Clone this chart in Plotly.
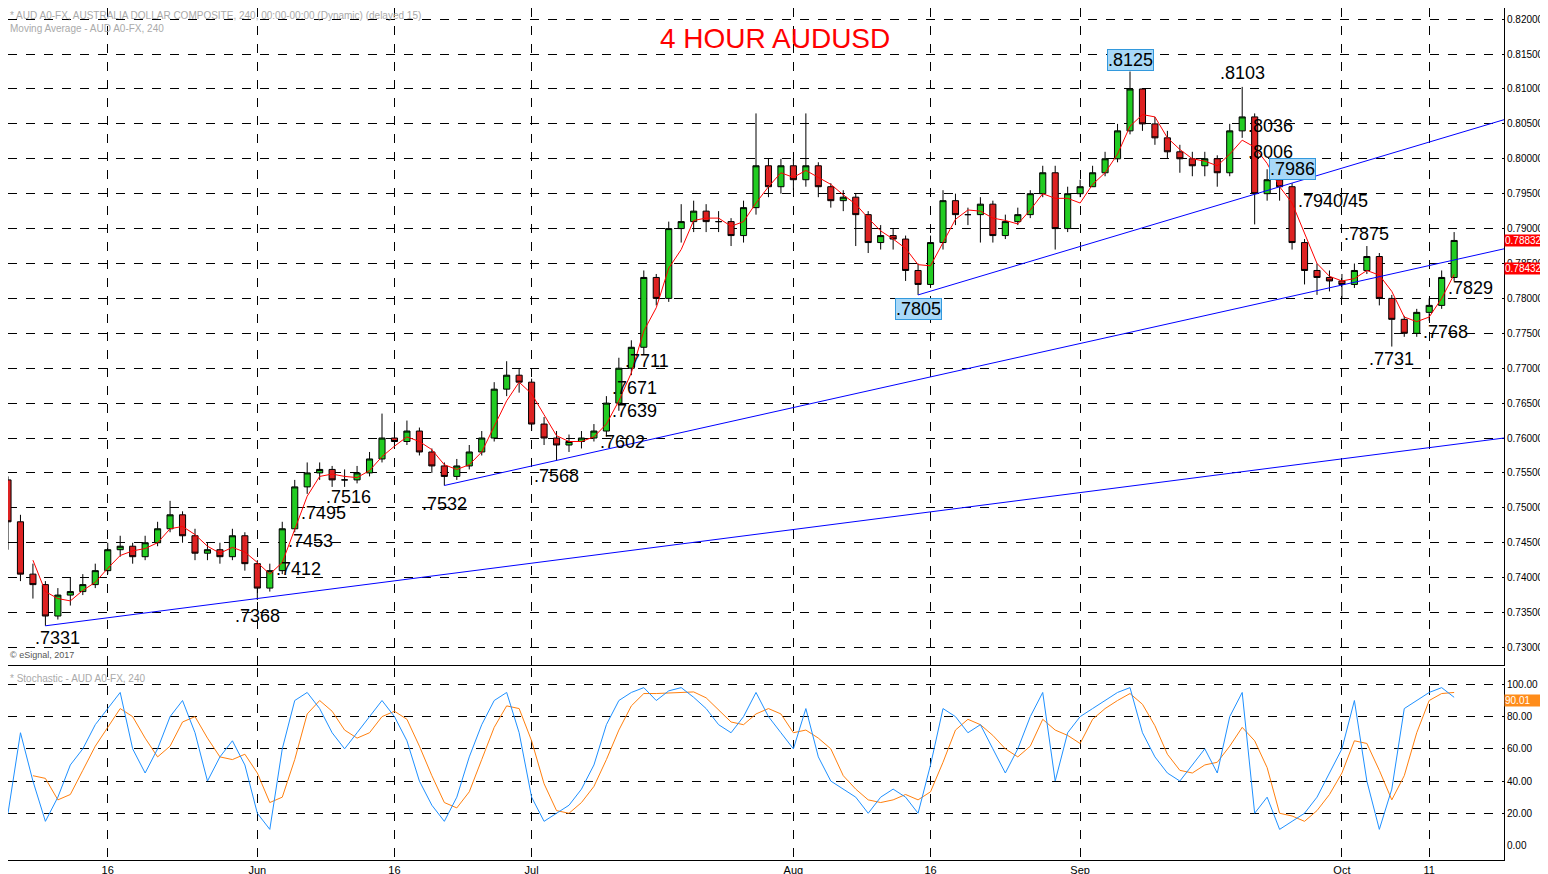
import pandas as pd
import plotly.graph_objects as go
from plotly.subplots import make_subplots

# daily bars (trading days only)
days = ["2017-05-04","2017-05-05","2017-05-08","2017-05-09","2017-05-10","2017-05-11","2017-05-12",
        "2017-05-15","2017-05-16","2017-05-17","2017-05-18","2017-05-19","2017-05-22","2017-05-23",
        "2017-05-24","2017-05-25","2017-05-26","2017-05-29","2017-05-30","2017-05-31","2017-06-01",
        "2017-06-02","2017-06-05","2017-06-06","2017-06-07","2017-06-08","2017-06-09","2017-06-12",
        "2017-06-13","2017-06-14","2017-06-15","2017-06-16","2017-06-19","2017-06-20","2017-06-21",
        "2017-06-22","2017-06-23","2017-06-26","2017-06-27","2017-06-28","2017-06-29","2017-06-30",
        "2017-07-03","2017-07-04","2017-07-05","2017-07-06","2017-07-07","2017-07-10","2017-07-11",
        "2017-07-12","2017-07-13","2017-07-14","2017-07-17","2017-07-18","2017-07-19","2017-07-20",
        "2017-07-21","2017-07-24","2017-07-25","2017-07-26","2017-07-27","2017-07-28","2017-07-31",
        "2017-08-01","2017-08-02","2017-08-03","2017-08-04","2017-08-07","2017-08-08","2017-08-09",
        "2017-08-10","2017-08-11","2017-08-14","2017-08-15","2017-08-16","2017-08-17","2017-08-18",
        "2017-08-21","2017-08-22","2017-08-23","2017-08-24","2017-08-25","2017-08-28","2017-08-29",
        "2017-08-30","2017-08-31","2017-09-01","2017-09-04","2017-09-05","2017-09-06","2017-09-07",
        "2017-09-08","2017-09-11","2017-09-12","2017-09-13","2017-09-14","2017-09-15","2017-09-18",
        "2017-09-19","2017-09-20","2017-09-21","2017-09-22","2017-09-25","2017-09-26","2017-09-27",
        "2017-09-28","2017-09-29","2017-10-02","2017-10-03","2017-10-04","2017-10-05","2017-10-06",
        "2017-10-09","2017-10-10","2017-10-11","2017-10-12","2017-10-13"]
opens = [0.7540,0.7480,0.7405,0.7390,0.7345,0.7375,0.7380,0.7390,0.7410,0.7440,0.7445,0.7430,0.7450,0.7470,
         0.7490,0.7460,0.7435,0.7440,0.7430,0.7460,0.7420,0.7385,0.7410,0.7470,0.7530,0.7550,0.7555,0.7540,
         0.7540,0.7550,0.7570,0.7600,0.7595,0.7610,0.7580,0.7560,0.7545,0.7560,0.7580,0.7600,0.7670,0.7690,
         0.7680,0.7620,0.7600,0.7590,0.7595,0.7600,0.7610,0.7650,0.7700,0.7730,0.7830,0.7800,0.7900,0.7910,
         0.7925,0.7910,0.7910,0.7890,0.7930,0.7990,0.7960,0.7990,0.7970,0.7990,0.7960,0.7940,0.7945,0.7920,
         0.7880,0.7890,0.7885,0.7840,0.7820,0.7880,0.7940,0.7920,0.7920,0.7935,0.7890,0.7910,0.7920,0.7950,
         0.7980,0.7900,0.7950,0.7960,0.7980,0.8000,0.8040,0.8100,0.8050,0.8030,0.8010,0.8000,0.7990,0.8000,
         0.7980,0.8040,0.8060,0.7950,0.7970,0.7960,0.7880,0.7840,0.7830,0.7825,0.7820,0.7840,0.7860,0.7800,
         0.7770,0.7750,0.7780,0.7790,0.7830]
closes = [0.7480,0.7405,0.7390,0.7345,0.7375,0.7380,0.7390,0.7410,0.7440,0.7445,0.7430,0.7450,0.7470,0.7490,
          0.7460,0.7435,0.7440,0.7430,0.7460,0.7420,0.7385,0.7410,0.7470,0.7530,0.7550,0.7555,0.7540,0.7540,
          0.7550,0.7570,0.7600,0.7595,0.7610,0.7580,0.7560,0.7545,0.7560,0.7580,0.7600,0.7670,0.7690,0.7680,
          0.7620,0.7600,0.7590,0.7595,0.7600,0.7610,0.7650,0.7700,0.7730,0.7830,0.7800,0.7900,0.7910,0.7925,
          0.7910,0.7910,0.7890,0.7930,0.7990,0.7960,0.7990,0.7970,0.7990,0.7960,0.7940,0.7945,0.7920,0.7880,
          0.7890,0.7885,0.7840,0.7820,0.7880,0.7940,0.7920,0.7920,0.7935,0.7890,0.7910,0.7920,0.7950,0.7980,
          0.7900,0.7950,0.7960,0.7980,0.8000,0.8040,0.8100,0.8050,0.8030,0.8010,0.8000,0.7990,0.8000,0.7980,
          0.8040,0.8060,0.7950,0.7970,0.7960,0.7880,0.7840,0.7830,0.7825,0.7820,0.7840,0.7860,0.7800,0.7770,
          0.7750,0.7780,0.7790,0.7830,0.7883]
highs = [0.7545,0.7490,0.7420,0.7395,0.7385,0.7400,0.7405,0.7420,0.7450,0.7460,0.7450,0.7460,0.7480,0.7510,
         0.7495,0.7470,0.7450,0.7450,0.7470,0.7465,0.7425,0.7420,0.7480,0.7540,0.7565,0.7565,0.7560,0.7555,
         0.7560,0.7580,0.7635,0.7620,0.7625,0.7615,0.7585,0.7565,0.7570,0.7590,0.7610,0.7680,0.7710,0.7700,
         0.7685,0.7630,0.7610,0.7605,0.7610,0.7620,0.7660,0.7715,0.7740,0.7840,0.7835,0.7910,0.7935,0.7940,
         0.7935,0.7925,0.7915,0.7940,0.8065,0.8000,0.8000,0.8000,0.8065,0.7995,0.7965,0.7955,0.7950,0.7925,
         0.7905,0.7900,0.7890,0.7850,0.7890,0.7955,0.7950,0.7930,0.7945,0.7940,0.7920,0.7930,0.7955,0.7990,
         0.7990,0.7960,0.7970,0.7990,0.8010,0.8050,0.8125,0.8100,0.8060,0.8040,0.8020,0.8010,0.8010,0.8005,
         0.8050,0.8103,0.8065,0.7985,0.7975,0.7965,0.7885,0.7850,0.7840,0.7835,0.7850,0.7875,0.7865,0.7805,
         0.7775,0.7785,0.7800,0.7840,0.7895]
lows = [0.7440,0.7395,0.7370,0.7331,0.7340,0.7360,0.7375,0.7385,0.7405,0.7430,0.7420,0.7425,0.7445,0.7465,
        0.7450,0.7425,0.7425,0.7420,0.7425,0.7410,0.7368,0.7380,0.7405,0.7465,0.7520,0.7540,0.7530,0.7530,
        0.7535,0.7545,0.7565,0.7585,0.7590,0.7575,0.7550,0.7532,0.7540,0.7555,0.7575,0.7595,0.7660,0.7665,
        0.7610,0.7590,0.7568,0.7580,0.7585,0.7595,0.7602,0.7639,0.7690,0.7720,0.7790,0.7795,0.7880,0.7895,
        0.7895,0.7895,0.7875,0.7880,0.7920,0.7945,0.7950,0.7955,0.7960,0.7945,0.7930,0.7925,0.7875,0.7865,
        0.7870,0.7870,0.7825,0.7805,0.7815,0.7870,0.7905,0.7905,0.7880,0.7880,0.7885,0.7905,0.7915,0.7945,
        0.7870,0.7895,0.7945,0.7960,0.7975,0.7995,0.8035,0.8040,0.8020,0.8000,0.7980,0.7975,0.7975,0.7960,
        0.7975,0.8030,0.7906,0.7940,0.7940,0.7870,0.7820,0.7805,0.7810,0.7800,0.7815,0.7835,0.7790,0.7731,
        0.7745,0.7745,0.7768,0.7785,0.7825]
stoch_k = [20,70,40,15,30,50,60,75,85,95,60,45,60,80,90,70,40,55,65,50,20,10,60,90,95,85,70,60,70,80,
           90,80,65,40,25,15,30,55,75,90,95,70,30,15,20,25,35,50,75,90,95,98,90,96,98,92,85,75,70,80,
           95,80,70,60,85,55,40,35,30,20,30,35,30,20,50,85,80,70,75,60,45,60,80,95,40,70,80,85,90,95,
           98,70,55,45,40,50,60,45,80,95,20,30,10,15,20,30,45,60,90,40,10,35,85,90,95,98,92]
price_ticks = [round(0.73 + 0.005 * i, 3) for i in range(19)]
stoch_ticks = [0, 20, 40, 60, 80, 100]
x_ticks = ["2017-05-16","2017-06-01","2017-06-16","2017-07-03","2017-07-16","2017-08-01",
           "2017-08-16","2017-09-01","2017-09-17","2017-10-02","2017-10-11"]
x_labels = ["16","Jun","16","Jul","16","Aug","16","Sep","17","Oct","11"]
# (text, day, price, placed to the right of the bar)
labels = [(".7331","2017-05-10",0.7314,False),(".7368","2017-06-01",0.7345,False),
          (".7412","2017-06-02",0.7412,True),(".7453","2017-06-05",0.7453,True),
          (".7495","2017-06-06",0.7493,True),(".7516","2017-06-08",0.7516,True),
          (".7532","2017-06-22",0.7505,False),(".7568","2017-07-05",0.7545,False),
          (".7602","2017-07-10",0.7594,True),(".7639","2017-07-11",0.7638,True),
          (".7671","2017-07-11",0.7671,True),(".7711","2017-07-12",0.7711,True),
          (".7805","2017-08-15",0.7785,False),(".8125","2017-09-07",0.8141,False),
          (".8103","2017-09-20",0.8123,False),(".8036","2017-09-20",0.8047,True),
          (".8006","2017-09-20",0.8010,True),(".7986","2017-09-26",0.7985,False),
          (".7940/45","2017-09-26",0.7940,True),(".7875","2017-10-04",0.7892,False),
          (".7731","2017-10-06",0.7713,False),(".7768","2017-10-10",0.7752,True),
          (".7829","2017-10-12",0.7815,True)]
boxed = {".8125", ".7805", ".7986"}

n = min(len(days), len(opens), len(closes), len(highs), len(lows), len(stoch_k))
df = pd.DataFrame({"day": pd.to_datetime(days[:n]), "o": opens[:n], "h": highs[:n], "l": lows[:n],
                   "c": closes[:n], "k": stoch_k[:n]})
df["ma"] = df["c"].rolling(3).mean()
df["d"] = df["k"].rolling(3).mean()

fig = make_subplots(rows=2, cols=1, shared_xaxes=True)
fig.add_trace(go.Candlestick(x=df["day"], open=df["o"], high=df["h"], low=df["l"], close=df["c"],
                             increasing=dict(line=dict(color="black", width=1), fillcolor="#22cc22"),
                             decreasing=dict(line=dict(color="black", width=1), fillcolor="#dd2222"),
                             whiskerwidth=0, showlegend=False), row=1, col=1)
fig.add_trace(go.Scatter(x=df["day"], y=df["ma"], mode="lines", line=dict(color="red", width=1),
                         showlegend=False), row=1, col=1)
fig.add_trace(go.Scatter(x=df["day"], y=df["d"], mode="lines", line=dict(color="#ff7f0e", width=1),
                         showlegend=False), row=2, col=1)
fig.add_trace(go.Scatter(x=df["day"], y=df["k"], mode="lines", line=dict(color="#1e90ff", width=1),
                         showlegend=False), row=2, col=1)

# trendlines
for x0, y0, x1, y1 in [("2017-05-09", 0.7331, "2017-10-19", 0.7600),
                       ("2017-06-22", 0.7532, "2017-10-19", 0.7871),
                       ("2017-08-15", 0.7805, "2017-10-19", 0.8056)]:
    fig.add_shape(type="line", x0=x0, y0=y0, x1=x1, y1=y1, xref="x", yref="y",
                  line=dict(color="blue", width=1))

for text, d, p, right in labels:
    box = text in boxed
    fig.add_annotation(x=d, y=p, text=text, showarrow=False, xref="x", yref="y",
                       xanchor="left" if right else "center", xshift=6 if right else 0,
                       font=dict(size=18, color="black", family="Arial"),
                       bgcolor="#a8d8f8" if box else None, bordercolor="#3399dd" if box else None,
                       borderwidth=1 if box else 0, borderpad=0)

fig.add_annotation(x=0.513, y=0.985, xref="paper", yref="paper", text="4 HOUR AUDUSD", showarrow=False,
                   font=dict(size=28, color="red", family="Arial"))
fig.add_annotation(x=0.0, y=1.0, xref="paper", yref="paper", xanchor="left", yanchor="top", align="left",
                   text="* AUD A0-FX, AUSTRALIA DOLLAR COMPOSITE, 240, 00:00-00:00 (Dynamic) (delayed 15)<br>Moving Average - AUD A0-FX, 240",
                   showarrow=False, font=dict(size=10, color="#aaaaaa", family="Arial"))
fig.add_annotation(x=0.0, y=0.232, xref="paper", yref="paper", xanchor="left", yanchor="bottom",
                   text="© eSignal, 2017", showarrow=False, font=dict(size=9, color="#555555", family="Arial"))
fig.add_annotation(x=0.0, y=0.222, xref="paper", yref="paper", xanchor="left", yanchor="top",
                   text="* Stochastic - AUD A0-FX, 240", showarrow=False,
                   font=dict(size=10, color="#aaaaaa", family="Arial"))
for val, txt, ref, col in [(0.78832, "0.78832", "y", "red"), (0.78432, "0.78432", "y", "red"),
                           (90.01, "90.01", "y2", "#ff8c1a")]:
    fig.add_annotation(x=1.0, y=val, xref="paper", yref=ref, xanchor="left", text=txt, showarrow=False,
                       bgcolor=col, font=dict(size=10, color="white", family="Arial"), width=46, height=11,
                       align="left", borderpad=0)

grid = dict(showgrid=True, gridcolor="black", griddash="dash", gridwidth=1)
fig.update_xaxes(type="date", range=["2017-05-04", "2017-10-19"],
                 rangebreaks=[dict(bounds=["sat", "mon"])], rangeslider_visible=False,
                 tickvals=x_ticks, ticktext=x_labels, tickfont=dict(size=11, color="black", family="Arial"),
                 showline=True, linecolor="black", **grid)
fig.update_xaxes(showticklabels=False, row=1, col=1)
fig.update_xaxes(showticklabels=True, row=2, col=1)
fig.update_yaxes(side="right", range=[0.7275, 0.8216], tickvals=price_ticks,
                 ticktext=[f"{v:.5f}" for v in price_ticks], domain=[0.229, 1.0], ticklen=3,
                 tickfont=dict(size=10, color="black"), showline=True, linecolor="black",
                 row=1, col=1, **grid)
fig.update_yaxes(side="right", range=[-9, 110], tickvals=stoch_ticks,
                 ticktext=[f"{v:.2f}" for v in stoch_ticks], domain=[0.0, 0.225], ticklen=3,
                 tickfont=dict(size=10, color="black"), showline=True, linecolor="black",
                 row=2, col=1, **grid)
fig.update_layout(width=1548, height=874, margin=dict(l=0, r=52, t=0, b=22),
                  paper_bgcolor="white", plot_bgcolor="white", font=dict(family="Arial"))
fig.write_html("out.html")
